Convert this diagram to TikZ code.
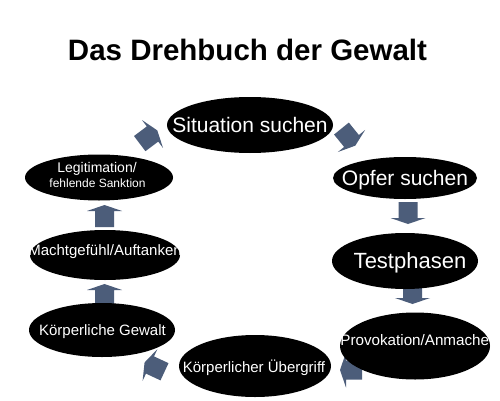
\documentclass[tikz,border=0pt]{standalone}
\usepackage{fontspec}
\setmainfont{Liberation Sans}
\usetikzlibrary{shapes.geometric}
\definecolor{arrowcol}{RGB}{76,93,122}
\begin{document}
\begin{tikzpicture}[x=1pt,y=1pt,
  oval/.style={ellipse,fill=black,draw=none,inner sep=0pt},
  lbl/.style={text=white,anchor=base,inner sep=0pt},
  blockarrow/.pic={\fill[arrowcol] (-16,-9.5) -- (0,-9.5) -- (0,-17.5) -- (6,0) -- (0,17.5) -- (0,9.5) -- (-16,9.5) -- cycle;}]
\useasboundingbox (0,0) rectangle (500,400);
\fill[white] (0,0) rectangle (500,400);

% title
\node[anchor=base,inner sep=0pt,font=\fontsize{29.5}{34}\selectfont\bfseries] (title) at (247.5,340) {Das Drehbuch der Gewalt};

% block arrows (drawn first, partly hidden by the ovals)
\pic (a1) [rotate=37]  at (152.5,266) {blockarrow};
\pic (a2) [rotate=-51] at (351.5,259) {blockarrow};
\pic (a3) [rotate=-90] at (408,182)   {blockarrow};
\pic (a4) [rotate=-90] at (412.5,102) {blockarrow};
\pic (a5) [rotate=180] at (346,30)    {blockarrow};
\pic (a6) [rotate=155] at (150,35)    {blockarrow};
\pic (a7) [rotate=90]  at (104.5,110) {blockarrow};
\pic (a8) [rotate=90]  at (104.5,189) {blockarrow};

% ovals
\node[oval,minimum width=166pt,minimum height=56pt] (e1) at (250,275) {};
\node[oval,minimum width=144pt,minimum height=42pt] (e2) at (405,222) {};
\node[oval,minimum width=146pt,minimum height=56pt] (e3) at (405,139) {};
\node[oval,minimum width=150pt,minimum height=67pt] (e4) at (415,54) {};
\node[oval,minimum width=152pt,minimum height=62pt] (e5) at (255,34) {};
\node[oval,minimum width=146pt,minimum height=54pt] (e6) at (102,70) {};
\node[oval,minimum width=150pt,minimum height=50pt] (e7) at (105,145) {};
\node[oval,minimum width=148pt,minimum height=46pt] (e8) at (99,222.5) {};

% labels
\node[lbl,font=\fontsize{21}{25}\selectfont] (t1) at (250,268) {Situation suchen};
\node[lbl,font=\fontsize{21}{25}\selectfont] (t2) at (405,215) {Opfer suchen};
\node[lbl,font=\fontsize{22}{26}\selectfont] (t3) at (410,132) {Testphasen};
\node[lbl,font=\fontsize{15.2}{18}\selectfont] (t4) at (419,55) {Provokation/Anmachen};
\node[lbl,font=\fontsize{15}{18}\selectfont] (t5) at (254,28) {Körperlicher Übergriff};
\node[lbl,font=\fontsize{15}{18}\selectfont] (t6) at (102.5,65) {Körperliche Gewalt};
\node[lbl,font=\fontsize{15}{18}\selectfont] (t7) at (105,145) {Machtgefühl/Auftanken};
\node[lbl,font=\fontsize{14}{17}\selectfont] (t8a) at (97,228) {Legitimation/};
\node[lbl,font=\fontsize{12}{14}\selectfont] (t8b) at (97.5,213) {fehlende Sanktion};
\end{tikzpicture}
\end{document}
